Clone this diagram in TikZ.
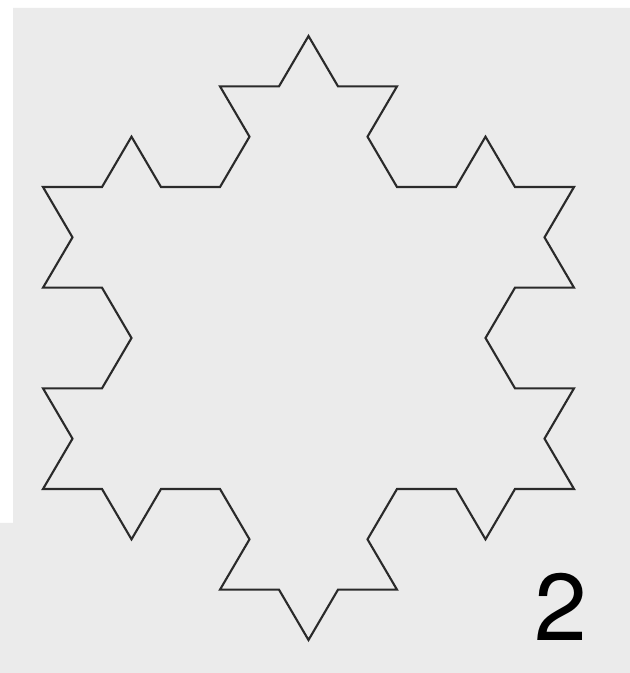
\documentclass[tikz,border=0pt]{standalone}
\usepackage{fontspec}
\usepackage{tikz}
\newfontfamily\numfont{TeX Gyre Heros}
\definecolor{bggray}{HTML}{EBEBEB}
\definecolor{linegray}{HTML}{2A2A2A}
\tikzset{
  koch/.style={draw=linegray,line width=1.8pt,line join=miter},
  numlbl/.style={font=\numfont\fontsize{81}{81}\selectfont,inner sep=0pt,anchor=base},
}
\begin{document}
\begin{tikzpicture}[x=0.3mm,y=0.3mm]
\useasboundingbox (0,0) rectangle (630,673);
% background panel
\fill[bggray] (13,665) -- (630,665) -- (630,0) -- (0,0) -- (0,150) -- (13,150) -- cycle;

% koch curve, order 2
\begin{scope}[shift={(43,184)},yscale=0.985]
\draw[koch] (0,0)
  \foreach \e in {0,120,240}{
    \foreach \h in {0,-60,60,0,-60,-120,0,-60,60,0,120,60,0,-60,60,0}{
      -- ++(\e+\h:59)
    }
  } -- cycle;
\end{scope}

\node[numlbl] (num) at (561,32) {2};
\end{tikzpicture}
\end{document}
